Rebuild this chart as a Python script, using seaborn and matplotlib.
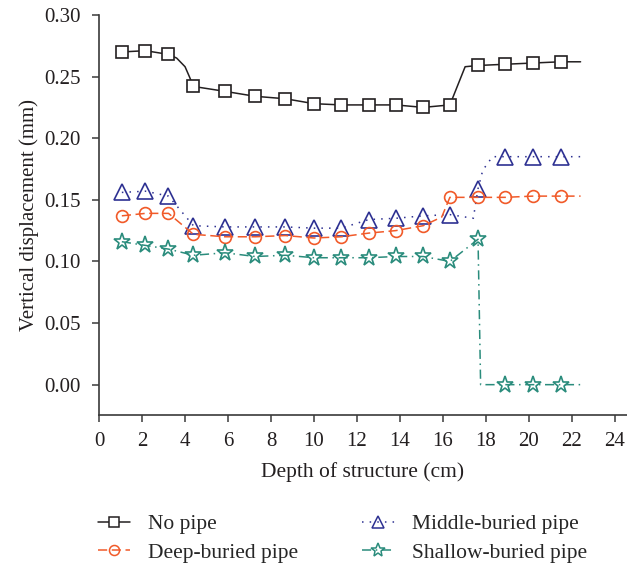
import pandas as pd
import seaborn as sns
import matplotlib.pyplot as plt
from matplotlib.lines import Line2D

sns.set_theme(style="ticks")
plt.rcParams["font.family"] = ["Liberation Serif", "DejaVu Serif"]

# Depths (cm) at which each pipe case was measured (marked points)
depth = [1.06, 2.16, 3.23, 4.39, 5.86, 7.26, 8.67, 10.00, 11.27,
         12.55, 13.80, 15.08, 16.32, 17.63, 18.89, 20.18, 21.47]
end_depth = 22.4

# Vertical displacement (mm) at the marked depths
no_pipe = [0.270, 0.271, 0.268, 0.242, 0.238, 0.234, 0.232, 0.228, 0.227,
           0.227, 0.227, 0.225, 0.227, 0.259, 0.260, 0.261, 0.262]
deep = [0.137, 0.139, 0.139, 0.122, 0.120, 0.120, 0.121, 0.119, 0.120,
        0.123, 0.125, 0.129, 0.152, 0.152, 0.152, 0.153, 0.153]
middle = [0.156, 0.157, 0.153, 0.129, 0.128, 0.128, 0.128, 0.127, 0.127,
          0.134, 0.135, 0.137, 0.138, 0.159, 0.185, 0.185, 0.185]
shallow = [0.116, 0.113, 0.110, 0.105, 0.107, 0.104, 0.105, 0.103, 0.103,
           0.103, 0.104, 0.104, 0.100, 0.118, 0.000, 0.000, 0.000]

# Extra (unmarked) curve vertices between measured depths
no_pipe_bend_x = [3.61, 4.00, 4.20, 17.03]
no_pipe_bend_y = [0.265, 0.258, 0.250, 0.258]
deep_bend_x = [15.94]
deep_bend_y = [0.136]
middle_bend_x = [17.41, 17.85, 18.30]
middle_bend_y = [0.135, 0.174, 0.185]
shallow_bend_x = [17.75]
shallow_bend_y = [0.000]

end_values = {"No pipe": 0.262, "Deep-buried pipe": 0.153,
              "Middle-buried pipe": 0.185, "Shallow-buried pipe": 0.000}

labels = ["No pipe", "Deep-buried pipe", "Middle-buried pipe", "Shallow-buried pipe"]
colors = ["#231f20", "#f15a29", "#2e3192", "#2a8c7c"]
linestyles = ["-", (0, (6, 3)), (0, (1, 4)), (0, (6, 3, 1, 3))]
markers = ["s", "o", "^", "*"]
msizes = [8, 8.5, 11, 12.5]
faces = ["white", "none", "none", "none"]


def build(vals, bx, by, end_val):
    df = pd.DataFrame({
        "depth": depth + bx + [end_depth],
        "disp": vals + by + [end_val],
        "marked": [True] * len(depth) + [False] * (len(bx) + 1),
    })
    df = df.sort_values("depth", kind="stable").reset_index(drop=True)
    return df, [int(i) for i in df.index[df["marked"]]]


series = [
    build(no_pipe, no_pipe_bend_x, no_pipe_bend_y, end_values["No pipe"]),
    build(deep, deep_bend_x, deep_bend_y, end_values["Deep-buried pipe"]),
    build(middle, middle_bend_x, middle_bend_y, end_values["Middle-buried pipe"]),
    build(shallow, shallow_bend_x, shallow_bend_y, end_values["Shallow-buried pipe"]),
]

fig = plt.figure(figsize=(6.27, 5.69), dpi=100)
ax = fig.add_axes([0.158, 0.2707, 0.842, 0.7030])

draw_order = [0, 2, 1, 3]
for i in draw_order:
    df, idx = series[i]
    sns.lineplot(data=df, x="depth", y="disp", ax=ax, estimator=None, sort=False,
                 color=colors[i], linestyle=linestyles[i], linewidth=1.1,
                 marker=markers[i], markevery=idx, markersize=msizes[i],
                 markerfacecolor=faces[i], markeredgecolor=colors[i],
                 markeredgewidth=1.2, legend=False)

ax.set_xlim(0, 24.56)
ax.set_ylim(-0.0246, 0.30)
ax.set_xticks(range(0, 25, 2))
ax.set_yticks([0.0, 0.05, 0.10, 0.15, 0.20, 0.25, 0.30])
ax.set_yticklabels([f"{v:.2f}" for v in ax.get_yticks()])
ax.set_xlabel("Depth of structure (cm)", fontsize=15.5, color="#231f20", labelpad=8)
ax.set_ylabel("Vertical displacement (mm)", fontsize=15, color="#231f20", labelpad=4)
ax.tick_params(direction="out", length=5, width=1.1, colors="#3a3a3a",
               labelsize=15, labelcolor="#231f20")
ax.tick_params(axis="x", pad=7)
ax.tick_params(axis="y", pad=8)
sns.despine(ax=ax)
for side in ("left", "bottom"):
    ax.spines[side].set_color("#3a3a3a")
    ax.spines[side].set_linewidth(1.2)

handles = [Line2D([], [], color=colors[i], linestyle=linestyles[i], linewidth=1.1,
                  marker=markers[i], markersize=msizes[i] * 0.85,
                  markerfacecolor=faces[i], markeredgecolor=colors[i],
                  markeredgewidth=1.1) for i in range(4)]
fig.legend(handles, labels, loc="upper left", bbox_to_anchor=(98 / 627, 1 - 514 / 569),
           ncol=2, frameon=False, fontsize=15.5, numpoints=1, handlelength=1.5,
           handletextpad=0.8, columnspacing=3.0, labelspacing=0.41, borderpad=0,
           borderaxespad=0)

fig.savefig("out.png", dpi=100)
